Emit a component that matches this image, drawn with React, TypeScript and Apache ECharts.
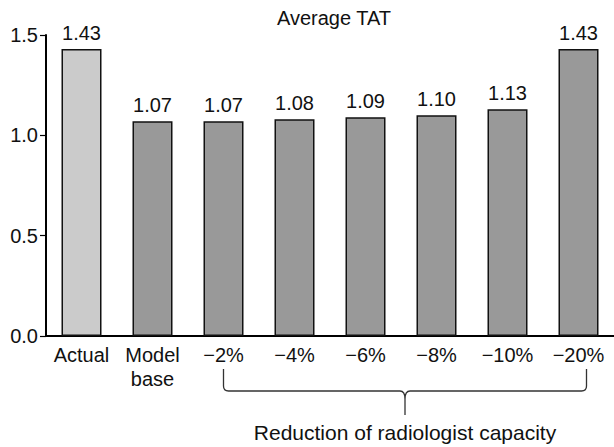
import React, { useEffect, useRef } from "react";
import * as echarts from "echarts";

const categories = ["Actual", "Model\nbase", "−2%", "−4%", "−6%", "−8%", "−10%", "−20%"];
const values = [1.43, 1.07, 1.07, 1.08, 1.09, 1.1, 1.13, 1.43];
const barColors = ["#cbcbcb", "#999999", "#999999", "#999999", "#999999", "#999999", "#999999", "#999999"];
const yTicks = { min: 0, max: 1.5, interval: 0.5 };
const titleText = "Average TAT";
const bracketLabel = "Reduction of radiologist capacity";
const bracketFrom = "−2%";
const bracketTo = "−20%";

const FONT = "Liberation Sans";

let registered = false;
function registerBracket() {
  if (registered) return;
  registered = true;
  const Bracket = (echarts.graphic as any).extendShape({
    shape: { x1: 0, x2: 0, cx: 0, y1: 0, y2: 0, y3: 0 },
    buildPath(ctx: any, s: any) {
      const r = 5;
      ctx.moveTo(s.x1, s.y1);
      ctx.lineTo(s.x1, s.y2 - r);
      ctx.quadraticCurveTo(s.x1, s.y2, s.x1 + r, s.y2);
      ctx.lineTo(s.cx - r, s.y2);
      ctx.quadraticCurveTo(s.cx, s.y2, s.cx, s.y2 + 8);
      ctx.lineTo(s.cx, s.y3);
      ctx.moveTo(s.cx, s.y2 + 8);
      ctx.quadraticCurveTo(s.cx, s.y2, s.cx + r, s.y2);
      ctx.lineTo(s.x2 - r, s.y2);
      ctx.quadraticCurveTo(s.x2, s.y2, s.x2, s.y2 - r);
      ctx.lineTo(s.x2, s.y1);
    },
  });
  (echarts.graphic as any).registerShape("bracket", Bracket);
}

export default function App() {
  const ref = useRef<HTMLDivElement>(null);
  useEffect(() => {
    if (!ref.current) return;
    registerBracket();
    const chart = echarts.init(ref.current, null, { renderer: "svg" });
    const gridLeft = 46;
    const gridTop = 35;
    const gridHeight = 301;
    chart.setOption({
      animation: false,
      textStyle: { fontFamily: FONT },
      title: {
        text: titleText,
        left: 329,
        top: 3,
        textAlign: "center",
        textStyle: { fontFamily: FONT, fontSize: 20, fontWeight: "normal", color: "#111" },
      },
      grid: { left: gridLeft, top: gridTop, width: 571.4, height: gridHeight, containLabel: false },
      xAxis: {
        type: "category",
        data: categories,
        axisLine: { lineStyle: { color: "#000", width: 2 } },
        axisTick: { show: false },
        axisLabel: { color: "#111", fontSize: 20, fontFamily: FONT, margin: 7, lineHeight: 24, interval: 0 },
      },
      yAxis: {
        type: "value",
        min: yTicks.min,
        max: yTicks.max,
        interval: yTicks.interval,
        splitLine: { show: false },
        axisLine: { show: true, lineStyle: { color: "#000", width: 2 } },
        axisTick: { show: true, length: 6, lineStyle: { color: "#000", width: 1.2 } },
        axisLabel: {
          color: "#111",
          fontSize: 20,
          fontFamily: FONT,
          margin: 8,
          formatter: (v: number) => v.toFixed(1),
        },
      },
      series: [
        {
          type: "bar",
          data: values.map((v, i) => ({ value: v, itemStyle: { color: barColors[i] } })),
          barWidth: 40,
          itemStyle: { borderColor: "#111", borderWidth: 1.5 },
          label: {
            show: true,
            position: "top",
            distance: 6,
            color: "#111",
            fontSize: 20,
            fontFamily: FONT,
            formatter: (p: any) => p.value.toFixed(2),
          },
        },
      ],
    });
    const x1 = chart.convertToPixel({ xAxisIndex: 0 }, bracketFrom) as number;
    const x2 = (chart.convertToPixel({ xAxisIndex: 0 }, bracketTo) as number) + 8;
    const cx = (x1 + x2) / 2;
    const axisY = gridTop + gridHeight;
    chart.setOption({
      graphic: [
        {
          type: "bracket",
          shape: { x1, x2, cx, y1: axisY + 33, y2: axisY + 55, y3: axisY + 79 },
          style: { stroke: "#333", lineWidth: 1.3, fill: "none" },
        },
        {
          type: "text",
          x: cx,
          y: axisY + 96,
          style: {
            text: bracketLabel,
            fontFamily: FONT,
            fontSize: 21,
            fill: "#111",
            align: "center",
            verticalAlign: "middle",
          },
        },
      ],
    });
    return () => chart.dispose();
  }, []);
  return <div ref={ref} style={{ position: "absolute", left: 0, top: 0, width: 614, height: 447 }} />;
}
